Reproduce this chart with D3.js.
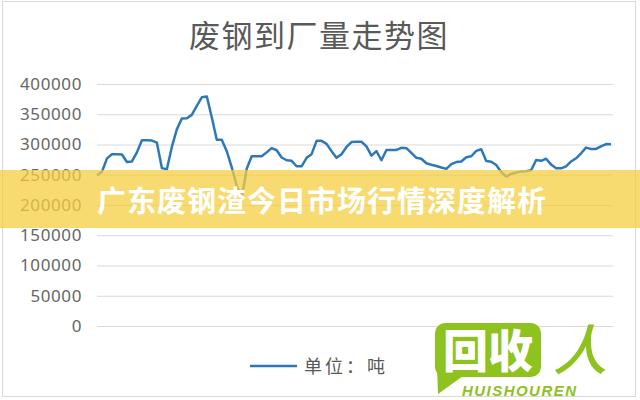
<!DOCTYPE html>
<html>
<head>
<meta charset="utf-8">
<script src="https://cdn.jsdelivr.net/npm/d3@7"></script>
<style>
html,body{margin:0;padding:0;background:#fff;}
svg{display:block;}
</style>
</head>
<body>
<svg id="chart" width="640" height="400"></svg>
<script>
const title = "废钢到厂量走势图";
const bannerText = "广东废钢渣今日市场行情深度解析";
const legendLabel = "单位：吨";
const yTicks = [0, 50000, 100000, 150000, 200000, 250000, 300000, 350000, 400000];
// weekly arrivals (tons)
const values = [
  249000, 255000, 277000, 284000, 284000, 283500, 271000, 272000, 287000, 307000,
  307000, 306500, 303000, 261000, 259000, 296000, 325000, 343000, 343500, 349000,
  364000, 378000, 379500, 345000, 307800, 307800, 289000, 262000, 232000, 211000,
  260000, 280500, 280500, 280500, 287000, 294000, 290500, 278500, 274000, 273000,
  264000, 264000, 278000, 284000, 306000, 306000, 301000, 289000, 278000, 284000,
  296000, 304000, 304500, 304500, 297000, 281500, 289000, 274000, 291000, 291000,
  291000, 294500, 294000, 286000, 278000, 276500, 269000, 266600, 264500, 262000,
  259700, 267600, 271000, 272000, 279000, 280600, 289500, 292200, 272700, 271400,
  266000, 254700, 247000, 251300, 253600, 255200, 255800, 257400, 274300, 273000,
  276500, 266800, 260600, 260600, 263800, 272000, 277200, 285500, 294900, 292600,
  292600, 297000, 300800, 300400
];
const categories = values.map((d, i) => i + 1);

const svg = d3.select("#chart");
const W = 640, H = 400;
const margin = {left: 97, right: 29, top: 84, bottom: 74};

// frame
svg.append("rect").attr("x", 2.5).attr("y", 1.5).attr("width", 633).attr("height", 395)
  .attr("fill", "#fff").attr("stroke", "#d9d9d9").attr("stroke-width", 1);

const x = d3.scalePoint().domain(categories).range([margin.left, W - margin.right]);
const y = d3.scaleLinear().domain([0, 400000]).range([H - margin.bottom, margin.top]);

// title
svg.append("text").attr("x", 319).attr("y", 47).attr("text-anchor", "middle")
  .attr("font-family", "'Noto Sans CJK SC', sans-serif").attr("font-size", 31)
  .attr("letter-spacing", 1.5).attr("fill", "#595959").text(title);

// y axis with gridlines
const yAxis = d3.axisLeft(y).tickValues(yTicks).tickSize(-(W - margin.left - margin.right + 2)).tickPadding(15)
  .tickFormat(d3.format("d"));
const gy = svg.append("g").attr("transform", `translate(${margin.left},0)`).call(yAxis);
gy.select(".domain").remove();
gy.selectAll(".tick line").attr("stroke", "#d9d9d9").attr("stroke-width", 1.2);
gy.selectAll(".tick text").attr("fill", "#666")
  .attr("font-family", "'Noto Sans', 'DejaVu Sans', sans-serif").attr("font-size", 17)
  .attr("letter-spacing", 0.6);

// line
const line = d3.line().x((d, i) => x(categories[i])).y(d => y(d));
svg.append("path").datum(values).attr("d", line).attr("fill", "none")
  .attr("stroke", "#2e78b7").attr("stroke-width", 2.5).attr("stroke-linejoin", "round");

// legend
svg.append("line").attr("x1", 250).attr("x2", 297).attr("y1", 366).attr("y2", 366)
  .attr("stroke", "#2e78b7").attr("stroke-width", 2.5);
svg.append("text").attr("x", 304).attr("y", 373)
  .attr("font-family", "'Noto Sans CJK SC', sans-serif").attr("font-size", 18)
  .attr("letter-spacing", 3).attr("fill", "#595959").text(legendLabel);

// banner
svg.append("rect").attr("x", 0).attr("y", 170).attr("width", W).attr("height", 58)
  .attr("fill", "#f6cf3e").attr("opacity", 0.74);
svg.append("text").attr("x", 97).attr("y", 212)
  .attr("font-family", "'Noto Sans CJK SC', sans-serif").attr("font-size", 29)
  .attr("font-weight", 700).attr("letter-spacing", 1).attr("fill", "#fff").text(bannerText);

// logo
const green = "#8dc21f";
const logo = svg.append("g");
logo.append("rect").attr("x", 435).attr("y", 323).attr("width", 106).attr("height", 54).attr("rx", 10).attr("fill", green);
logo.append("path").attr("d", "M437,368 L438,394 L463,376 Z").attr("fill", green);
logo.append("text").attr("x", 488).attr("y", 368).attr("text-anchor", "middle")
  .attr("font-family", "'Noto Sans CJK SC', sans-serif").attr("font-size", 45).attr("font-weight", 900)
  .attr("fill", "#fff").text("回收");
logo.append("text").attr("x", 580).attr("y", 370).attr("text-anchor", "middle")
  .attr("font-family", "'Noto Sans CJK SC', sans-serif").attr("font-size", 54).attr("font-weight", 500)
  .attr("font-style", "italic").attr("fill", green).text("人");
logo.append("text").attr("x", 462).attr("y", 396)
  .attr("font-family", "'Liberation Sans', Arial, sans-serif").attr("font-size", 15).attr("font-weight", 700)
  .attr("font-style", "italic").attr("textLength", 114).attr("fill", green).text("HUISHOUREN");
</script>
</body>
</html>
